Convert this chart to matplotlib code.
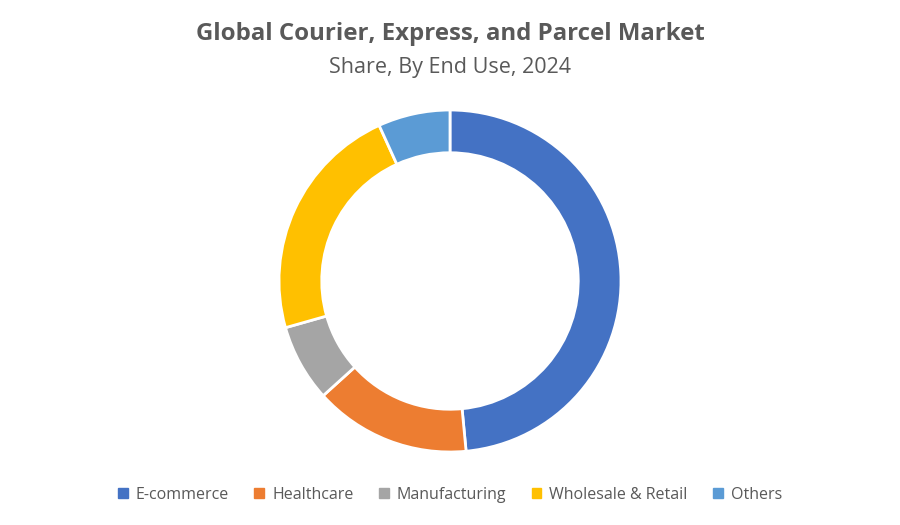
import matplotlib
matplotlib.use("Agg")
import matplotlib.pyplot as plt
from matplotlib.patches import Patch

categories = ["E-commerce", "Healthcare", "Manufacturing", "Wholesale & Retail", "Others"]
shares = [48.5, 14.8, 7.3, 22.6, 6.8]
colors = ["#4472C4", "#ED7D31", "#A5A5A5", "#FFC000", "#5B9BD5"]

plt.rcParams["font.family"] = "Open Sans"

fig = plt.figure(figsize=(9, 5.25), dpi=100)
fig.patch.set_facecolor("white")

# axes placed so the ring centre sits at (450, 281) px, radius ~171 px
ax = fig.add_axes([(450 - 171) / 900, (244 - 171) / 525, 342 / 900, 342 / 525])
ax.pie(shares, colors=colors, startangle=90, counterclock=False, radius=1,
       wedgeprops={"width": 0.25, "edgecolor": "white", "linewidth": 2})
ax.set_xlim(-1, 1)
ax.set_ylim(-1, 1)
ax.set_aspect("equal")
ax.axis("off")

fig.text(0.5, 0.935, "Global Courier, Express, and Parcel Market", ha="center", va="center",
         fontsize=17.3, fontweight="bold", color="#595959")
fig.text(0.5, 0.872, "Share, By End Use, 2024", ha="center", va="center",
         fontsize=15.5, color="#595959")

handles = [Patch(facecolor=c, edgecolor=c) for c in colors]
fig.legend(handles, categories, loc="center", bbox_to_anchor=(0.5, 0.058), ncol=5,
           frameon=False, fontsize=11.5, handlelength=0.6, handleheight=0.6,
           handletextpad=0.5, columnspacing=1.6, labelcolor="#595959")

fig.savefig("out.png", dpi=100, facecolor="white")
